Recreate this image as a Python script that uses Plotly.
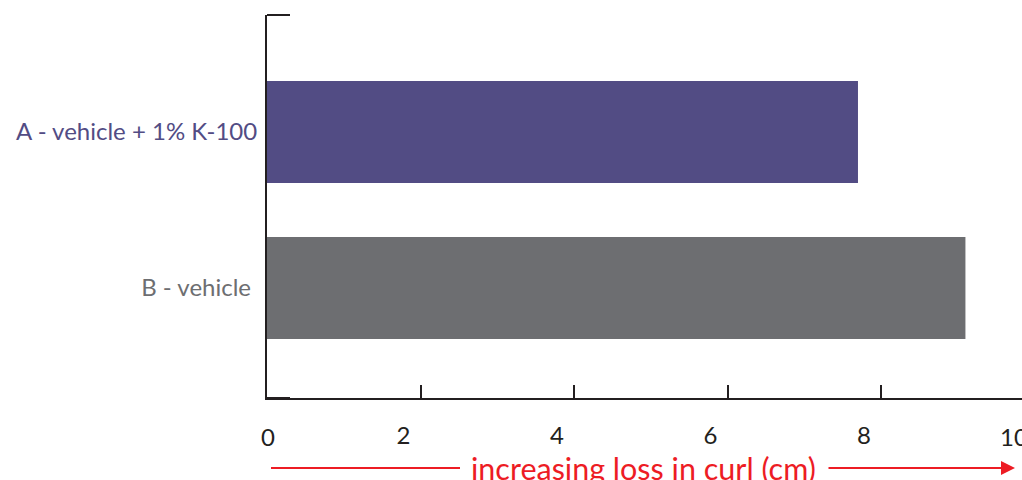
import plotly.graph_objects as go

categories = ["B - vehicle", "A - vehicle + 1% K-100"]
values = [9.1, 7.7]
bar_colors = ["#6d6e71", "#524c84"]
label_colors = ["#6d6e71", "#524c84"]
x_tickvals = [2, 4, 6, 8]
x_ticktext = ["2", "4", "6", "8"]
x_title = "increasing loss in curl (cm)"

W, H = 1022, 480
L, R, T, B = 267, 0, 15, 82
XMAX = 9.837
YMIN, YMAX = -0.705, 1.75
FONT = "Lato"
BLACK = "#231f20"
RED = "#ed1c24"

ypos = list(range(len(categories)))
ticktext = [f'<span style="color:{c}">{t}</span>' for t, c in zip(categories, label_colors)]
ticktext[0] = ticktext[0] + " "

fig = go.Figure(go.Bar(
    x=values, y=ypos, orientation="h",
    marker=dict(color=bar_colors, line=dict(width=0)),
    width=0.654, hoverinfo="skip",
))

fig.update_layout(
    width=W, height=H,
    margin=dict(l=L, r=R, t=T, b=B, pad=0),
    plot_bgcolor="white", paper_bgcolor="white",
    showlegend=False,
    font=dict(family=FONT, color=BLACK, size=24),
    xaxis=dict(
        range=[0, XMAX], showgrid=False, zeroline=False,
        showline=True, linecolor=BLACK, linewidth=2,
        tickvals=x_tickvals, ticktext=x_ticktext,
        ticks="inside", ticklen=13, tickwidth=2, tickcolor=BLACK,
        ticklabelshift=-17, ticklabelstandoff=15,
        tickfont=dict(family=FONT, size=24, color=BLACK),
    ),
    yaxis=dict(
        range=[YMIN, YMAX], showgrid=False, zeroline=False,
        showline=True, linecolor=BLACK, linewidth=2,
        tickvals=ypos, ticktext=ticktext, ticks="",
        ticklabelstandoff=3,
        tickfont=dict(family=FONT, size=24),
        minor=dict(tickvals=[YMIN + 0.003, YMAX - 0.003], ticks="inside",
                   ticklen=23, tickwidth=2, tickcolor=BLACK),
    ),
)

plot_w = W - L - R
plot_h = H - T - B
def xpaper(v, shift=0):
    return v / XMAX + shift / plot_w
def ypaper(py):
    return (H - B - py) / plot_h

# tick labels for the ends of the axis
for v, txt, sh in [(0, "0", 1), (10, "10", -21)]:
    fig.add_annotation(text=txt, x=xpaper(v, sh), xref="paper", xanchor="center",
                       y=ypaper(436), yref="paper", yanchor="middle", showarrow=False,
                       font=dict(family=FONT, size=24, color=BLACK))

ytitle = 468
fig.add_annotation(text=x_title, x=xpaper(0, 643 - L), xref="paper",
                   y=ypaper(ytitle), yref="paper", yanchor="middle", xanchor="center",
                   showarrow=False, font=dict(family=FONT, size=30.5, color=RED))

fig.add_shape(type="line", xref="paper", yref="paper",
              x0=xpaper(0, 271 - L), x1=xpaper(0, 460 - L),
              y0=ypaper(ytitle), y1=ypaper(ytitle),
              line=dict(color=RED, width=2))
fig.add_annotation(x=xpaper(0, 1015 - L), y=ypaper(ytitle), xref="paper", yref="paper",
                   ax=-(1015 - 827), ay=0, axref="pixel", ayref="pixel",
                   text="", showarrow=True, arrowhead=2, arrowsize=1.4, arrowwidth=2,
                   arrowcolor=RED)

fig.write_html("out.html", config={"displayModeBar": False},
               post_script="document.body.style.margin='0';document.body.style.overflow='hidden';")
